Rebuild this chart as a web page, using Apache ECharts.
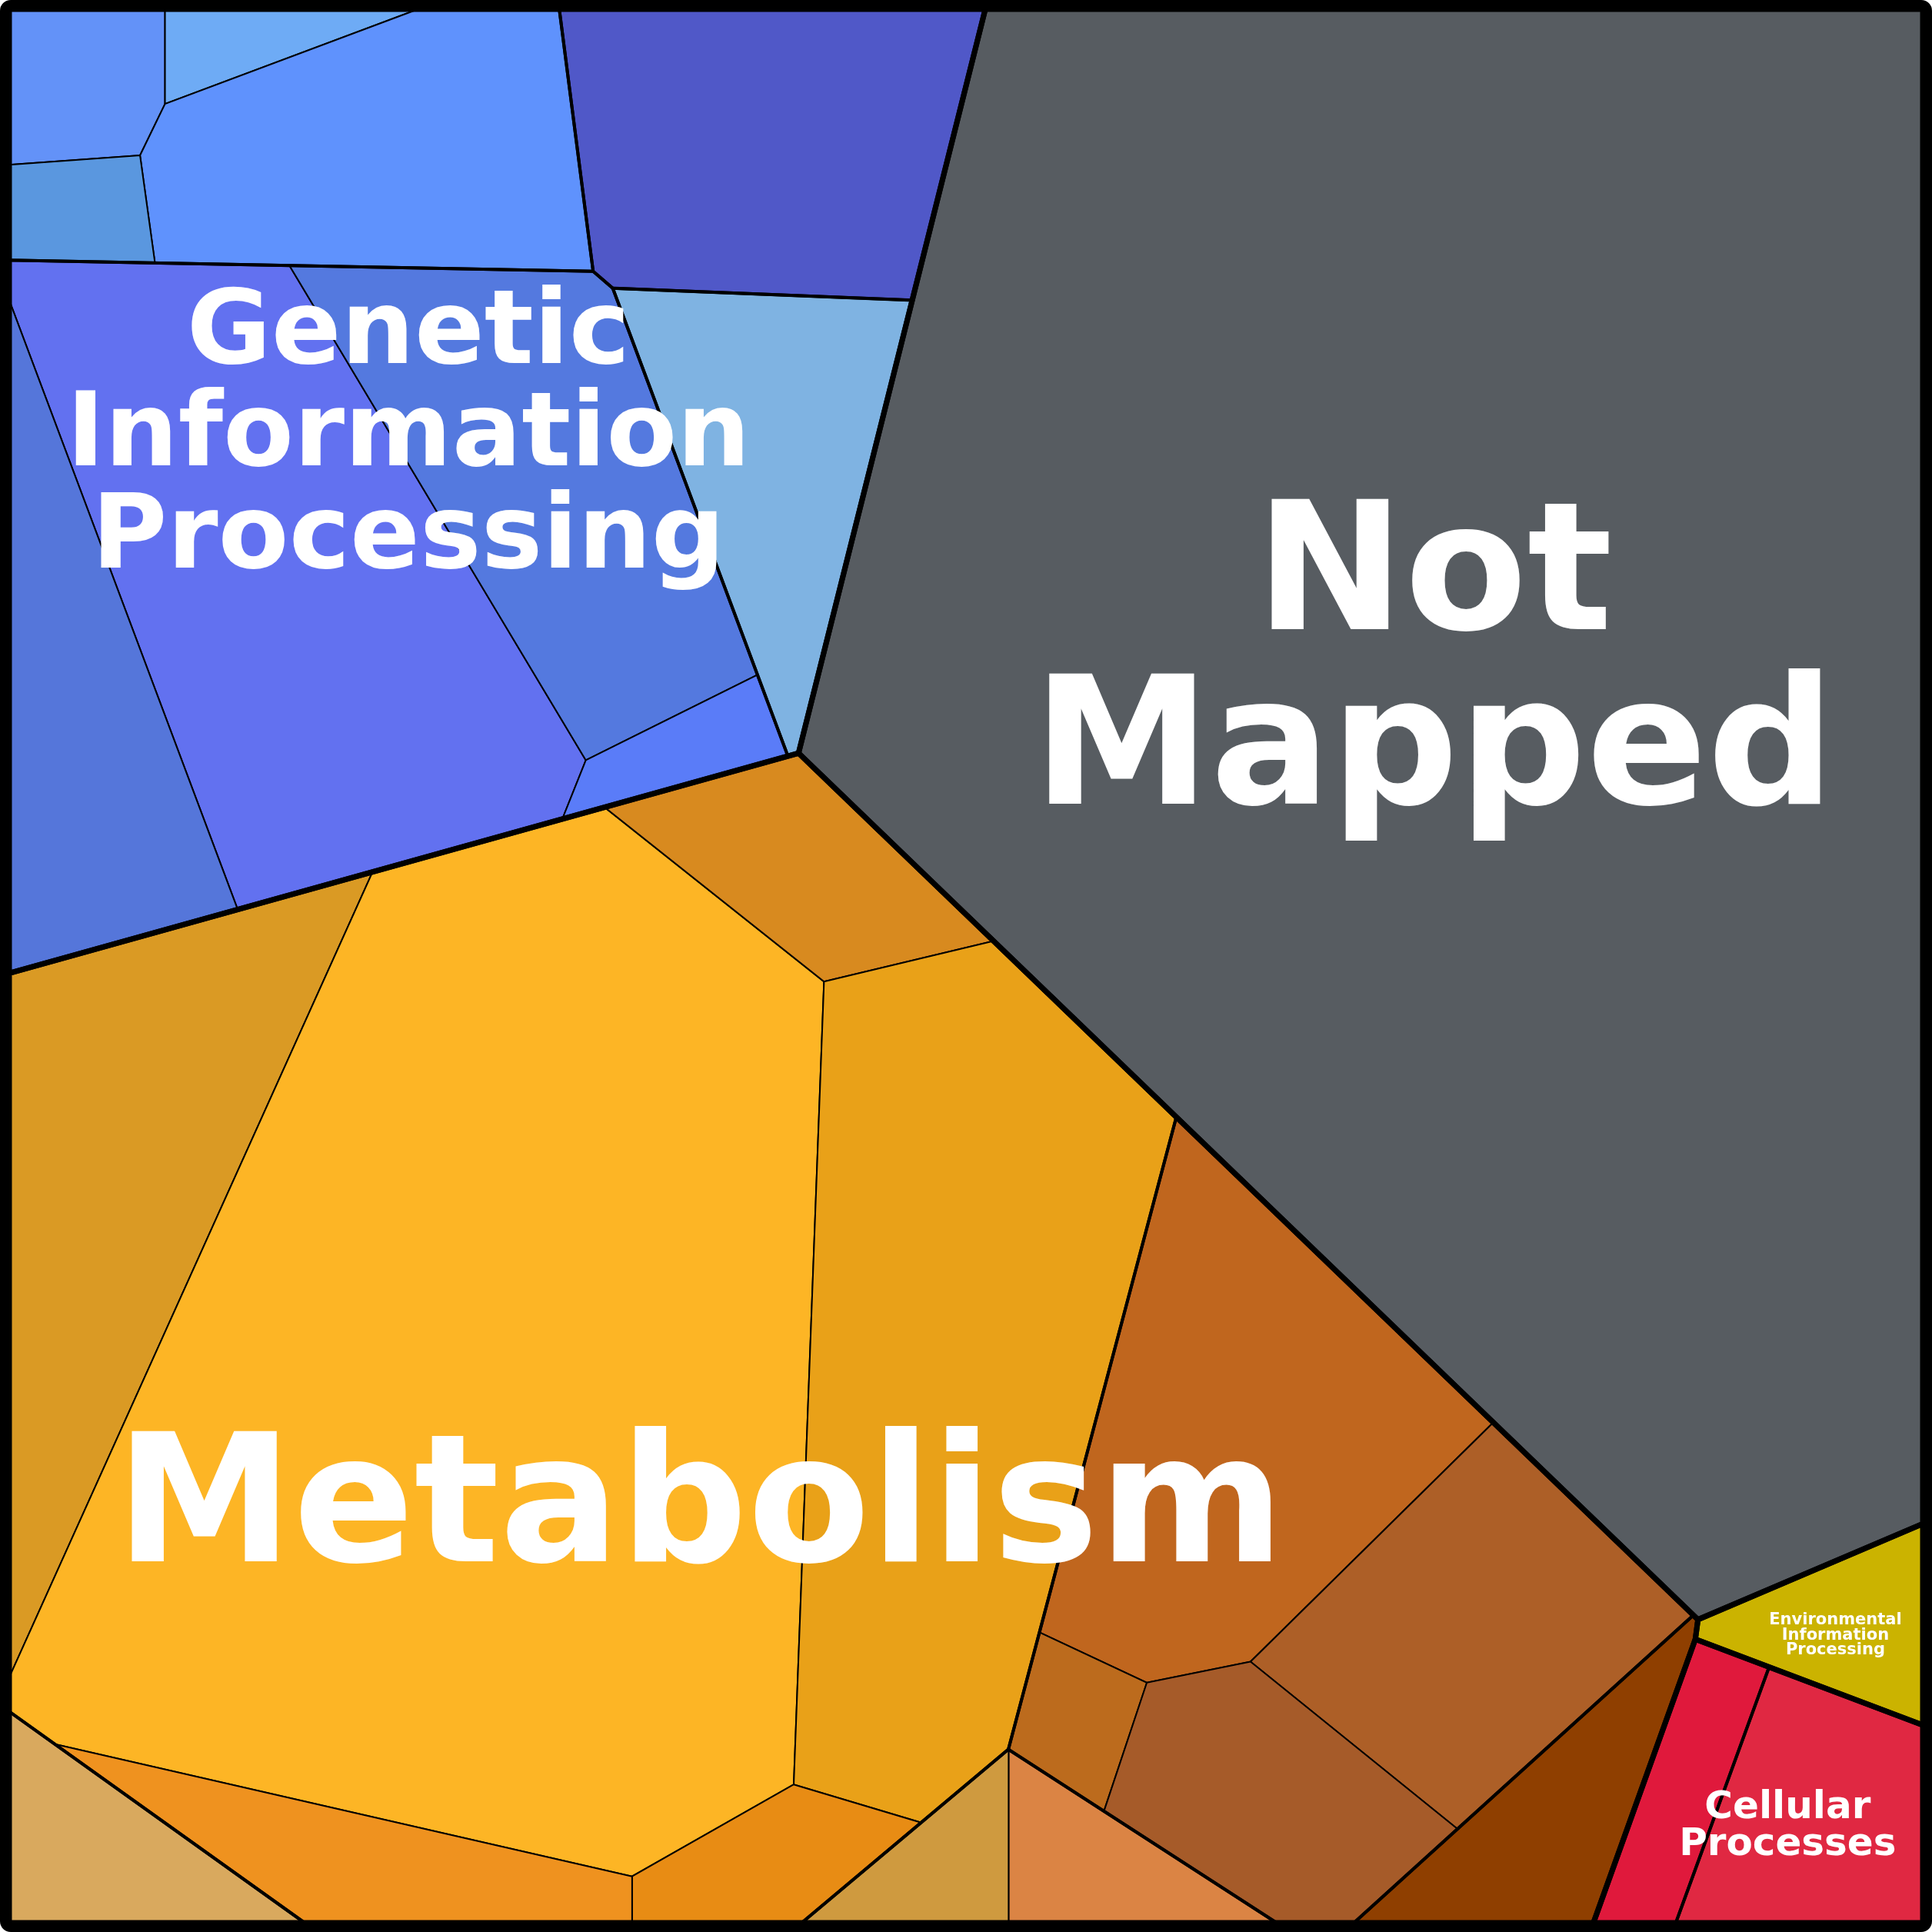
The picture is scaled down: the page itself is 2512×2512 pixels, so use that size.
<!DOCTYPE html>
<html>
<head>
<meta charset="utf-8">
<script src="https://cdn.jsdelivr.net/npm/echarts@6/dist/echarts.min.js"></script>
<style>
  html, body { margin: 0; padding: 0; background: #ffffff; }
  #chart { width: 2512px; height: 2512px; }
</style>
</head>
<body>
<div id="chart"></div>
<script>
// ---------------- DATA ----------------
const categoryNames = ['Not Mapped', 'Genetic Information Processing', 'Metabolism',
  'Environmental Information Processing', 'Cellular Processes'];

const groupNames = ['Not Mapped', 'Genetic A', 'Genetic B', 'Genetic C', 'Genetic D',
  'Metabolism A', 'Metabolism B', 'Metabolism C', 'Metabolism D', 'Metabolism E',
  'Environmental A', 'Cellular A', 'Cellular B'];
const groupCategory = [0, 1, 1, 1, 1, 2, 2, 2, 2, 2, 3, 4, 4];

const leafNames = ['Not Mapped',
  'G-A1', 'G-A2', 'G-A3', 'G-A4', 'G-B1', 'G-C1', 'G-C2', 'G-C3', 'G-C4', 'G-D1',
  'M-A1', 'M-A2', 'M-A3', 'M-A4', 'M-A5', 'M-A6', 'M-B1', 'M-B2', 'M-B3', 'M-B4',
  'M-C1', 'M-C2', 'M-D1', 'M-E1', 'E-A1', 'C-A1', 'C-B1'];
const leafGroup = [0, 1, 1, 1, 1, 2, 3, 3, 3, 3, 4, 5, 5, 5, 5, 5, 5, 6, 6, 6, 6, 7, 7, 8, 9, 10, 11, 12];
// relative size of every leaf (per mille of the whole)
const leafValues = [366.1,
  6.21, 3.27, 26.37, 3.84, 28.87, 57.80, 32.36, 21.00, 3.87, 19.46,
  34.94, 165.87, 11.67, 63.73, 6.59, 11.64, 36.90, 24.36, 3.97, 15.23,
  4.91, 6.33, 8.52, 10.48, 6.82, 6.12, 12.77];

// ---------------- STYLE / LAYOUT HINTS ----------------
const leafColors = ['#575c61',
  '#6392f8', '#6eabf5', '#5f92fd', '#5a97df', '#5058c8', '#6271f0', '#5479df', '#5576da', '#5a7cf8', '#7fb3e2',
  '#da9a24', '#fdb525', '#d88a1f', '#e9a118', '#e88c14', '#ef921f', '#c0661e', '#ad5f27', '#bc6b1d', '#a65b29',
  '#cf9a3f', '#db8444', '#d9a95e', '#8f3f00', '#cbb300', '#e0193c', '#e02842'];

// site positions (layout frame 5..1563) for the power-diagram layout
const categorySeeds = [[1187.9, 551.2], [350.5, 341], [583.9, 1178.2], [1507.7, 1301.5], [1438.3, 1485.2]];
const groupSeeds = [[1187.9, 551.2], [252.9, 112.3], [636.3, 62.8], [245.3, 515.2], [623.8, 373.5],
  [438, 1085.3], [1051.7, 1248.3], [844.2, 1569.3], [122.4, 1526.6], [1240, 1456.1],
  [1507.7, 1301.5], [1367.8, 1446.8], [1476.1, 1486.3]];
const leafSeeds = [[1187.9, 551.2],
  [62.2, 39.1], [233.2, 39.1], [271.2, 140.6], [71.5, 168.3], [636.3, 62.8],
  [232.9, 495.2], [434, 374.7], [69.2, 556.6], [558.7, 625.5], [623.8, 373.5],
  [96.1, 953.2], [384.7, 1083.4], [675.3, 717.6], [766.4, 1097.8], [637.6, 1528.3], [282.8, 1528.3],
  [997.3, 1149.7], [1172.9, 1327.9], [877.8, 1404.8], [1061.3, 1466],
  [762.8, 1516], [891.7, 1516], [122.4, 1526.6], [1240, 1456.1], [1507.7, 1301.5],
  [1367.8, 1446.8], [1476.1, 1486.3]];

const labelAnchors = [[1165, 542.8], [330, 354.6], [567.5, 1231], [1491.9, 1329], [1453, 1485]];
const labelFont = [232, 134, 232, 21, 50];
const labelLine = [227, 133, 232, 19.5, 48];
const labelShadow = [2, 1.5, 2, 1, 1];

const FRAME = [5, 1563];

// ---------------- POWER DIAGRAM LAYOUT ----------------
function clip(poly, a, b, c) {
  const out = [];
  const n = poly.length;
  for (let k = 0; k < n; k++) {
    const P = poly[k], Q = poly[(k + 1) % n];
    const dp = a * P[0] + b * P[1] - c;
    const dq = a * Q[0] + b * Q[1] - c;
    if (dp <= 0) out.push(P);
    if ((dp < 0 && dq > 0) || (dp > 0 && dq < 0)) {
      const t = dp / (dp - dq);
      out.push([P[0] + t * (Q[0] - P[0]), P[1] + t * (Q[1] - P[1])]);
    }
  }
  return out;
}
function polyArea(poly) {
  let s = 0;
  for (let k = 0; k < poly.length; k++) {
    const P = poly[k], Q = poly[(k + 1) % poly.length];
    s += P[0] * Q[1] - Q[0] * P[1];
  }
  return Math.abs(s) / 2;
}
function powerCells(region, sites, w) {
  return sites.map((si, i) => {
    let cell = region;
    for (let j = 0; j < sites.length && cell.length >= 3; j++) {
      if (j === i) continue;
      const sj = sites[j];
      const a = 2 * (sj[0] - si[0]);
      const b = 2 * (sj[1] - si[1]);
      const c = (sj[0] * sj[0] + sj[1] * sj[1]) - (si[0] * si[0] + si[1] * si[1]) - w[j] + w[i];
      cell = clip(cell, a, b, c);
    }
    return cell;
  });
}
function fitPower(region, sites, values) {
  if (sites.length === 1) return [region];
  const total = polyArea(region);
  const sum = values.reduce((s, v) => s + v, 0);
  const T = values.map(v => v / sum * total);
  const w = sites.map(() => 0);
  for (let it = 0; it < 3000; it++) {
    const cells = powerCells(region, sites, w);
    for (let i = 0; i < sites.length; i++) {
      w[i] += 0.4 * (T[i] - polyArea(cells[i]));
    }
  }
  return powerCells(region, sites, w);
}

const BOX = [[FRAME[0], FRAME[0]], [FRAME[1], FRAME[0]], [FRAME[1], FRAME[1]], [FRAME[0], FRAME[1]]];
const groupValues = groupNames.map((_, g) =>
  leafValues.reduce((s, v, i) => s + (leafGroup[i] === g ? v : 0), 0));
const categoryValues = categoryNames.map((_, c) =>
  groupValues.reduce((s, v, g) => s + (groupCategory[g] === c ? v : 0), 0));

const categoryCells = fitPower(BOX, categorySeeds, categoryValues);
const groupCells = new Array(groupNames.length);
categoryNames.forEach((_, c) => {
  const idx = groupCategory.map((cc, g) => cc === c ? g : -1).filter(g => g >= 0);
  const cells = fitPower(categoryCells[c], idx.map(g => groupSeeds[g]), idx.map(g => groupValues[g]));
  idx.forEach((g, k) => { groupCells[g] = cells[k]; });
});
const leafCells = new Array(leafNames.length);
groupNames.forEach((_, g) => {
  const idx = leafGroup.map((gg, i) => gg === g ? i : -1).filter(i => i >= 0);
  const cells = fitPower(groupCells[g], idx.map(i => leafSeeds[i]), idx.map(i => leafValues[i]));
  idx.forEach((i, k) => { leafCells[i] = cells[k]; });
});

// ---------------- CHART ----------------
const chart = echarts.init(document.getElementById('chart'), null, { renderer: 'canvas' });

function polyItem(cells, styleFn) {
  return function (params, api) {
    const i = params.dataIndex;
    const pts = cells[i].map(p => api.coord(p));
    return { type: 'polygon', shape: { points: pts }, style: styleFn(i) };
  };
}

chart.setOption({
  animation: false,
  backgroundColor: '#ffffff',
  grid: { left: 12, top: 12, width: 2488, height: 2488 },
  xAxis: { type: 'value', min: FRAME[0], max: FRAME[1], show: false },
  yAxis: { type: 'value', min: FRAME[0], max: FRAME[1], inverse: true, show: false },
  series: [
    {
      type: 'custom', name: 'leaves', silent: true, z: 1,
      data: leafNames.map((n, i) => ({ name: n, value: [leafSeeds[i][0], leafSeeds[i][1], leafValues[i]] })),
      encode: { x: 0, y: 1 },
      renderItem: polyItem(leafCells, i => ({ fill: leafColors[i], stroke: '#000', lineWidth: 2 }))
    },
    {
      type: 'custom', name: 'groups', silent: true, z: 2,
      data: groupNames.map((n, g) => ({ name: n, value: [groupSeeds[g][0], groupSeeds[g][1], groupValues[g]] })),
      encode: { x: 0, y: 1 },
      renderItem: polyItem(groupCells, () => ({ fill: 'none', stroke: '#000', lineWidth: 4 }))
    },
    {
      type: 'custom', name: 'categories', silent: true, z: 3,
      data: categoryNames.map((n, c) => ({ name: n, value: [categorySeeds[c][0], categorySeeds[c][1], categoryValues[c]] })),
      encode: { x: 0, y: 1 },
      renderItem: polyItem(categoryCells, () => ({ fill: 'none', stroke: '#000', lineWidth: 7 }))
    },
    {
      type: 'custom', name: 'labels', silent: true, z: 4,
      data: categoryNames.map((n, c) => ({ name: n, value: [labelAnchors[c][0], labelAnchors[c][1]] })),
      encode: { x: 0, y: 1 },
      renderItem: function (params, api) {
        const c = params.dataIndex;
        const p = api.coord(labelAnchors[c]);
        return {
          type: 'text', x: p[0], y: p[1],
          style: {
            text: categoryNames[c].split(' ').join('\n'),
            fill: '#ffffff',
            fontFamily: 'DejaVu Sans', fontWeight: 'bold', fontSize: labelFont[c],
            lineHeight: labelLine[c],
            align: 'center', verticalAlign: 'middle',
            textShadowColor: 'rgba(0,0,0,0.8)',
            textShadowBlur: 0,
            textShadowOffsetX: labelShadow[c],
            textShadowOffsetY: labelShadow[c]
          }
        };
      }
    }
  ],
  graphic: [{
    type: 'rect', z: 100, silent: true,
    shape: { x: 6, y: 6, width: 2500, height: 2500, r: 8 },
    style: { fill: 'none', stroke: '#000', lineWidth: 12 }
  }]
});
</script>
</body>
</html>
